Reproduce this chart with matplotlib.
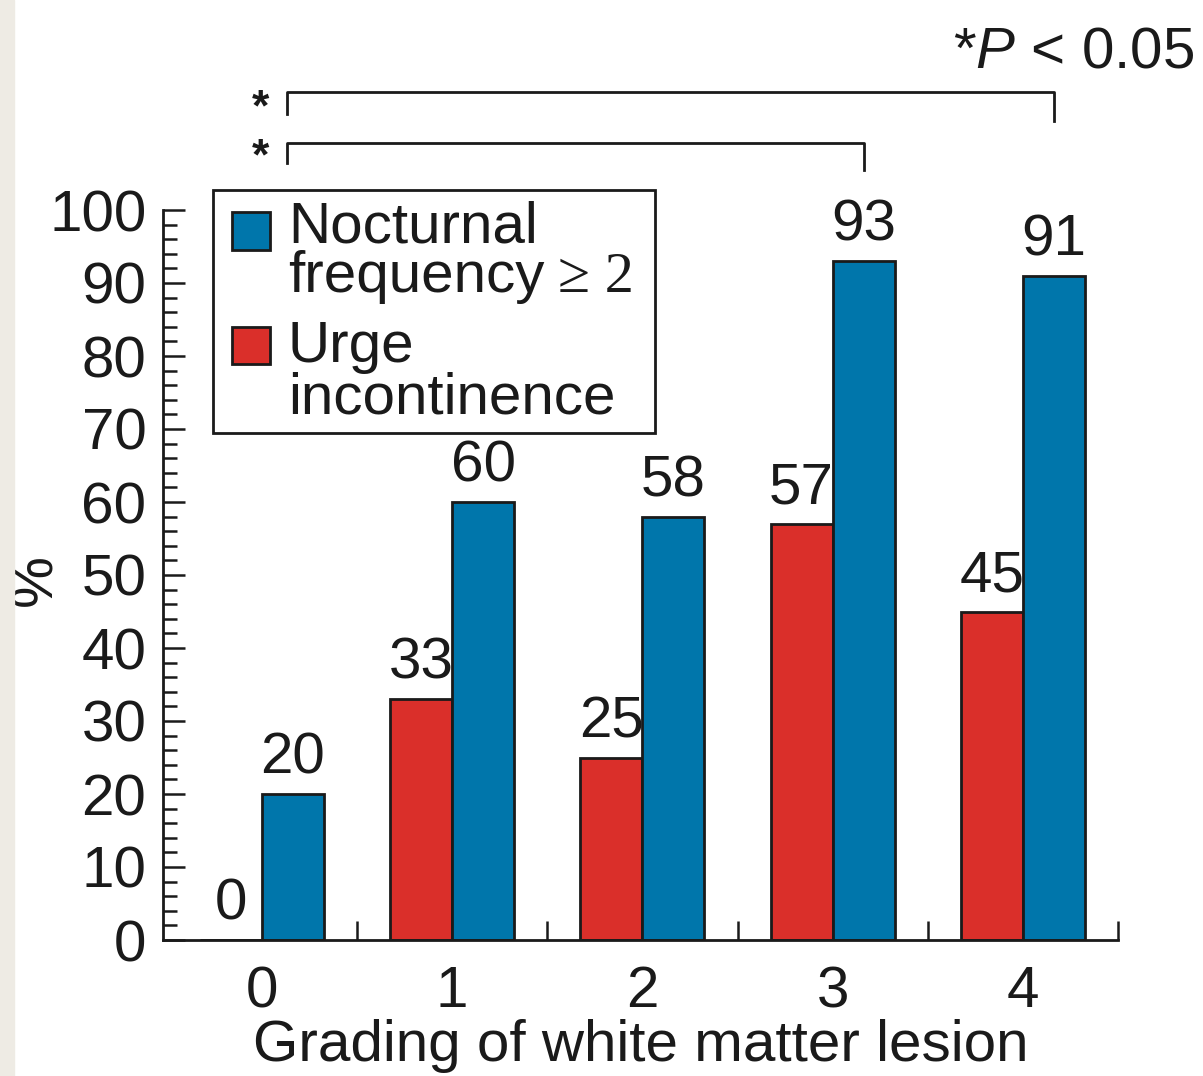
import matplotlib
matplotlib.use("Agg")
import matplotlib.pyplot as plt
import numpy as np
from matplotlib.patches import Rectangle
from matplotlib.ticker import MultipleLocator, FixedLocator

plt.rcParams["font.family"] = ["Liberation Sans", "DejaVu Sans"]
plt.rcParams["mathtext.fontset"] = "custom"
plt.rcParams["mathtext.it"] = "Liberation Sans:italic"
plt.rcParams["mathtext.rm"] = "Liberation Sans"

# data
grades = [0, 1, 2, 3, 4]
urge = [0, 33, 25, 57, 45]
nocturnal = [20, 60, 58, 93, 91]

BLUE = "#0076ab"
RED = "#da2f2a"
INK = "#1a1a1a"
FS = 42

fig = plt.figure(figsize=(12.03, 10.76), dpi=100)
fig.patches.append(Rectangle((0, 0), 14 / 1203, 1, transform=fig.transFigure,
                             color="#eeebe4", zorder=0))
ax = fig.add_axes([163 / 1203, 136 / 1076, 955 / 1203, 730 / 1076])

x = np.arange(len(grades))
w = 0.326
b_red = ax.bar(x - w / 2, urge, w, color=RED, edgecolor=INK, linewidth=2)
b_blue = ax.bar(x + w / 2, nocturnal, w, color=BLUE, edgecolor=INK, linewidth=2)
ax.bar_label(b_red, fontsize=FS, color=INK, padding=6)
ax.bar_label(b_blue, fontsize=FS, color=INK, padding=6)

ax.set_xlim(-0.52, 4.5)
ax.set_ylim(0, 100)
for s in ["top", "right"]:
    ax.spines[s].set_visible(False)
for s in ["left", "bottom"]:
    ax.spines[s].set_linewidth(2)
    ax.spines[s].set_color(INK)

ax.yaxis.set_major_locator(MultipleLocator(10))
ax.yaxis.set_minor_locator(MultipleLocator(2))
ax.tick_params(axis="y", which="major", direction="in", length=16, width=1.8,
               labelsize=FS, pad=12, colors=INK)
ax.tick_params(axis="y", which="minor", direction="in", length=10, width=1.8,
               colors=INK)

# major x ticks between groups (no label), minor locator for labels
ax.xaxis.set_major_locator(FixedLocator([0.5, 1.5, 2.5, 3.5, 4.5]))
ax.xaxis.set_minor_locator(FixedLocator(x))
ax.set_xticklabels([])
ax.set_xticklabels([str(g) for g in grades], minor=True)
ax.tick_params(axis="x", which="major", direction="in", length=14, width=1.8,
               colors=INK)
ax.tick_params(axis="x", which="minor", length=0, labelsize=FS, pad=18,
               labelcolor=INK)

ax.set_xlabel("Grading of white matter lesion", fontsize=FS, color=INK, labelpad=0)
ax.set_ylabel("%", fontsize=FS, color=INK)
ax.yaxis.set_label_coords(-0.104, 0.493)

# legend drawn by hand so the squares sit on the first line of each entry
ax.add_patch(Rectangle((-0.258, 69.45), 2.326, 33.3, fill=False, edgecolor=INK,
                       linewidth=2, clip_on=False))
ax.add_patch(Rectangle((-0.158, 94.52), 0.2, 5.2, facecolor=BLUE, edgecolor=INK,
                       linewidth=2, clip_on=False))
ax.add_patch(Rectangle((-0.158, 78.9), 0.2, 5.1, facecolor=RED, edgecolor=INK,
                       linewidth=2, clip_on=False))
ax.text(0.136, 95.48, "Nocturnal", fontsize=FS, color=INK, va="baseline")
t_freq = ax.text(0.136, 88.77, "frequency", fontsize=FS, color=INK, va="baseline")
ax.annotate("≥ 2", xy=(1, 0), xycoords=t_freq, xytext=(10, 0),
            textcoords="offset points", fontsize=FS, color=INK, va="bottom",
            family=["Liberation Serif", "DejaVu Serif"])
ax.text(0.136, 79.18, "Urge", fontsize=FS, color=INK, va="baseline")
ax.text(0.136, 72.19, "incontinence", fontsize=FS, color=INK, va="baseline")

# significance brackets
brackets = [(0, 4, 116.2, 112.2), (0, 3, 109.2, 105.5)]
for a, b, top, foot in brackets:
    xa, xb = a + w / 2 - 0.03, b + w / 2
    ax.plot([xa, xa, xb, xb], [foot + 1, top, top, foot], color=INK,
            linewidth=2, clip_on=False)
    ax.text(xa - 0.14, foot - 1.2, "*", fontsize=32, fontweight="bold",
            color=INK, ha="center", va="bottom")

ax.text(4.9, 119.5, r"*$\mathit{P}$ < 0.05", fontsize=FS, color=INK,
        ha="right", va="baseline")

fig.savefig("out.png", dpi=100)
